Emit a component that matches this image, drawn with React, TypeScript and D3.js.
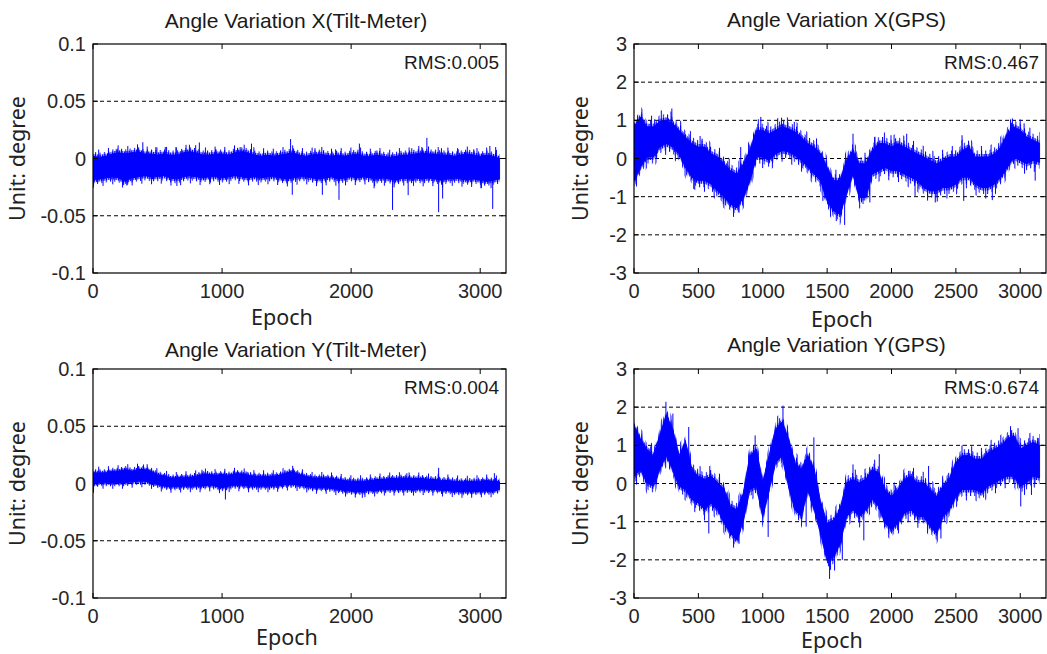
import React from 'react';
import * as d3 from 'd3';

// Epoch grid at which the band envelope of each record is sampled
const EPOCHS: number[] = d3.range(0, 3151, 50);

// Angle Variation X (Tilt-Meter): upper / lower edge of the dense band, degrees
const TILT_X_HI = [
  0.002, 0.001, 0.002, 0.004, 0.005, 0.004, 0.005, 0.006, 0.004, 0.004,
  0.003, 0.004, 0.003, 0.003, 0.005, 0.006, 0.005, 0.003, 0.003, 0.004,
  0.004, 0.003, 0.005, 0.006, 0.005, 0.003, 0.002, 0.003, 0.002, 0.003,
  0.004, 0.005, 0.003, 0.002, 0.003, 0.004, 0.003, 0.002, 0.003, 0.002,
  0.003, 0.004, 0.002, 0.002, 0.003, 0.002, 0.001, 0.002, 0.003, 0.003,
  0.004, 0.005, 0.004, 0.004, 0.003, 0.003, 0.002, 0.003, 0.004, 0.003,
  0.002, 0.003, 0.002, 0.0,
];
const TILT_X_LO = [
  -0.019, -0.018, -0.017, -0.016, -0.017, -0.02, -0.017, -0.016, -0.015, -0.016,
  -0.016, -0.015, -0.017, -0.018, -0.016, -0.015, -0.016, -0.017, -0.016, -0.016,
  -0.017, -0.016, -0.015, -0.016, -0.017, -0.016, -0.017, -0.016, -0.016, -0.017,
  -0.018, -0.017, -0.016, -0.016, -0.017, -0.018, -0.017, -0.016, -0.018, -0.017,
  -0.016, -0.017, -0.016, -0.017, -0.018, -0.017, -0.018, -0.019, -0.017, -0.018,
  -0.017, -0.018, -0.017, -0.018, -0.019, -0.018, -0.017, -0.018, -0.019, -0.018,
  -0.019, -0.02, -0.019, -0.018,
];
// isolated excursions [epoch, degrees]
const TILT_X_SPIKES: [number, number][] = [
  [180, 0.008], [262, -0.0236], [386, 0.0142], [487, 0.0099], [560, 0.01], [643, 0.0099],
  [650, -0.024], [747, 0.012], [824, 0.014], [910, -0.021], [950, 0.008], [1140, 0.01],
  [1228, 0.013], [1531, 0.017], [1544, -0.0317], [1720, 0.009], [1777, -0.0317],
  [1880, 0.008], [1906, -0.0361], [2064, 0.013], [2178, -0.026], [2200, 0.007],
  [2321, -0.0449], [2442, -0.032], [2470, 0.009], [2548, 0.01], [2587, 0.018],
  [2678, -0.0469], [2700, 0.009], [2709, -0.035], [2830, 0.008], [2950, 0.008],
  [3006, -0.026], [3075, 0.011], [3097, -0.044], [3120, 0.01],
];

// Angle Variation X (GPS)
const GPS_X_HI = [
  0.83, 1.09, 0.83, 0.83, 0.96, 1.0, 0.92, 0.74, 0.56, 0.39,
  0.3, 0.3, 0.12, 0.04, -0.14, -0.32, -0.41, -0.14, 0.21, 0.74,
  0.74, 0.65, 0.74, 0.83, 0.78, 0.7, 0.56, 0.39, 0.3, 0.12,
  -0.23, -0.58, -0.58, -0.05, 0.21, -0.14, -0.14, 0.21, 0.39, 0.39,
  0.3, 0.39, 0.3, 0.21, 0.12, 0.04, -0.05, -0.14, -0.05, 0.04,
  0.04, 0.21, 0.3, 0.04, 0.04, 0.04, 0.12, 0.3, 0.65, 0.83,
  0.74, 0.56, 0.48, 0.4,
];
const GPS_X_LO = [
  -0.58, -0.23, 0.04, 0.04, 0.3, 0.39, 0.3, 0.12, -0.23, -0.49,
  -0.58, -0.58, -0.67, -0.85, -1.02, -1.2, -1.29, -1.02, -0.58, 0.04,
  0.04, -0.05, 0.12, 0.21, 0.17, 0.08, -0.05, -0.23, -0.41, -0.58,
  -1.11, -1.37, -1.46, -0.93, -0.41, -1.02, -1.02, -0.41, -0.32, -0.23,
  -0.32, -0.32, -0.41, -0.49, -0.58, -0.76, -0.85, -0.85, -0.76, -0.76,
  -0.67, -0.49, -0.49, -0.67, -0.76, -0.76, -0.67, -0.49, -0.23, 0.04,
  -0.05, -0.14, -0.05, -0.1,
];
const GPS_X_SPIKES: [number, number][] = [
  [8, -0.58], [60, 1.09], [203, 1.0], [294, 1.31], [464, -0.8], [529, 0.52],
  [693, -1.2], [816, -1.42], [829, 0.3], [985, 1.09], [1146, 1.07], [1245, 0.96],
  [1467, -1.11], [1571, -1.64], [1636, -1.74], [1701, 0.65], [1767, -1.15],
  [1832, -1.15], [1871, 0.56], [1996, 0.61], [2118, 0.65], [2183, -0.98],
  [2340, -1.15], [2548, 0.61], [2561, -1.11], [2783, -1.09], [2939, 1.05],
  [3030, 0.92], [3116, -0.58],
];

// Angle Variation Y (Tilt-Meter)
const TILT_Y_HI = [
  0.0093, 0.0093, 0.0093, 0.0108, 0.0108, 0.0122, 0.0108, 0.0122, 0.0122, 0.0108,
  0.0079, 0.0064, 0.0049, 0.0049, 0.0055, 0.0055, 0.0064, 0.0079, 0.0079, 0.0073,
  0.0079, 0.0073, 0.0085, 0.0085, 0.0073, 0.0064, 0.0064, 0.0064, 0.0064, 0.0073,
  0.0093, 0.0102, 0.0079, 0.0064, 0.0049, 0.0049, 0.0049, 0.0044, 0.0035, 0.0026,
  0.002, 0.002, 0.002, 0.0026, 0.0035, 0.0035, 0.0044, 0.0044, 0.0049, 0.0044,
  0.0044, 0.0044, 0.0035, 0.0035, 0.0026, 0.0026, 0.002, 0.0015, 0.0015, 0.002,
  0.002, 0.0026, 0.002, 0.0015,
];
const TILT_Y_LO = [
  -0.0009, 0.0006, 0.0006, 0.0006, 0.0006, 0.0006, 0.0015, 0.002, 0.002, 0.0006,
  -0.0009, -0.0023, -0.0029, -0.0029, -0.0023, -0.0023, -0.0023, -0.0023, -0.0015, -0.0023,
  -0.0038, -0.0023, -0.0015, -0.0015, -0.0023, -0.0023, -0.0023, -0.0023, -0.0023, -0.0018,
  -0.0009, -0.0009, -0.0015, -0.0023, -0.0038, -0.0038, -0.0038, -0.0044, -0.0052, -0.0061,
  -0.0067, -0.0073, -0.0067, -0.0061, -0.0061, -0.0052, -0.0052, -0.0052, -0.0052, -0.0052,
  -0.0052, -0.0047, -0.0052, -0.0052, -0.0061, -0.0061, -0.0067, -0.0073, -0.0073, -0.0073,
  -0.0067, -0.0067, -0.0067, -0.0052,
];
const TILT_Y_SPIKES: [number, number][] = [
  [4, -0.008], [220, 0.0136], [391, 0.0166], [844, 0.012], [1026, -0.014],
  [1200, 0.01], [1531, 0.011], [2087, -0.0125], [2432, 0.009], [2678, 0.0137],
  [3110, 0.009],
];

// Angle Variation Y (GPS)
const GPS_Y_HI = [
  1.52, 1.17, 0.9, 0.73, 1.26, 1.79, 1.43, 0.73, 1.08, 0.37,
  0.19, 0.11, 0.19, 0.02, -0.16, -0.6, -0.69, -0.25, 0.73, 0.9,
  0.02, 0.73, 1.43, 1.61, 1.17, 0.55, 0.37, 0.73, 0.37, -0.51,
  -1.04, -0.96, -0.69, 0.02, 0.11, 0.02, 0.11, 0.37, 0.28, -0.16,
  -0.34, -0.16, 0.11, 0.19, 0.02, 0.02, -0.16, -0.34, -0.07, 0.11,
  0.55, 0.73, 0.73, 0.64, 0.64, 0.81, 0.9, 0.99, 1.17, 1.26,
  0.9, 0.99, 1.08, 1.0,
];
const GPS_Y_LO = [
  0.19, 0.37, 0.02, -0.07, 0.37, 0.73, 0.37, -0.07, -0.16, -0.42,
  -0.51, -0.69, -0.51, -0.69, -1.04, -1.31, -1.49, -0.96, -0.16, -0.07,
  -0.87, -0.16, 0.55, 0.73, -0.07, -0.69, -0.87, -0.16, -0.69, -1.31,
  -2.02, -1.93, -1.58, -0.87, -0.69, -0.87, -0.69, -0.42, -0.6, -1.04,
  -1.22, -1.04, -0.78, -0.69, -0.87, -0.87, -1.13, -1.31, -0.87, -0.69,
  -0.34, -0.16, -0.16, -0.16, -0.25, -0.07, 0.02, 0.11, 0.19, 0.19,
  -0.07, 0.02, 0.19, 0.15,
];
const GPS_Y_SPIKES: [number, number][] = [
  [248, 2.14], [302, 1.83], [425, 1.48], [581, -1.31], [816, -1.58], [941, 1.26],
  [1042, -1.4], [1157, 2.04], [1337, -1.13], [1397, 1.21], [1519, -2.5],
  [1558, -2.28], [1618, -2.0], [1701, 0.5], [1785, -1.49], [1905, 0.77],
  [2001, -1.31], [2144, 0.33], [2288, 0.46], [2384, -1.44], [2444, 0.28],
  [2874, 0.99], [2983, 1.45], [3004, -0.6], [3087, -0.3], [3140, 1.19],
];

// Axis ticks and labels
const TILT_TICKS = [-0.1, -0.05, 0, 0.05, 0.1];
const TILT_TICK_LABELS = ['-0.1', '-0.05', '0', '0.05', '0.1'];
const GPS_TICKS = [-3, -2, -1, 0, 1, 2, 3];
const GPS_TICK_LABELS = ['-3', '-2', '-1', '0', '1', '2', '3'];
const TILT_EPOCH_TICKS = [0, 1000, 2000, 3000];
const GPS_EPOCH_TICKS = [0, 500, 1000, 1500, 2000, 2500, 3000];

const TITLES = [
  'Angle Variation X(Tilt-Meter)',
  'Angle Variation X(GPS)',
  'Angle Variation Y(Tilt-Meter)',
  'Angle Variation Y(GPS)',
];
const RMS_LABELS = ['RMS:0.005', 'RMS:0.467', 'RMS:0.004', 'RMS:0.674'];

const BLUE = '#0000ff';
const TICK_FONT = "'Liberation Sans', Arial, sans-serif";
const LABEL_FONT = "'Noto Sans', 'Open Sans', sans-serif";

type PanelSpec = {
  title: string;
  rms: string;
  hi: number[];
  lo: number[];
  spikes: [number, number][];
  yTicks: number[];
  yLabels: string[];
  xTicks: number[];
  left: number;
  right: number;
  top: number;
  bottom: number;
  titleY: number;
  epochX: number;
  epochY: number;
  unitX: number;
  hair: number[]; // pixel lengths of the short vertical jitter strokes along the band edges
};

const PANELS: PanelSpec[] = [
  {
    title: TITLES[0], rms: RMS_LABELS[0], hi: TILT_X_HI, lo: TILT_X_LO, spikes: TILT_X_SPIKES,
    yTicks: TILT_TICKS, yLabels: TILT_TICK_LABELS, xTicks: TILT_EPOCH_TICKS,
    left: 93, right: 506, top: 44, bottom: 273, titleY: 28, epochX: 282, epochY: 325, unitX: 25,
    hair: [2.5, 4.5, 7.5],
  },
  {
    title: TITLES[1], rms: RMS_LABELS[1], hi: GPS_X_HI, lo: GPS_X_LO, spikes: GPS_X_SPIKES,
    yTicks: GPS_TICKS, yLabels: GPS_TICK_LABELS, xTicks: GPS_EPOCH_TICKS,
    left: 634, right: 1046, top: 44, bottom: 273, titleY: 27, epochX: 842, epochY: 327, unitX: 588,
    hair: [3, 6.5, 11],
  },
  {
    title: TITLES[2], rms: RMS_LABELS[2], hi: TILT_Y_HI, lo: TILT_Y_LO, spikes: TILT_Y_SPIKES,
    yTicks: TILT_TICKS, yLabels: TILT_TICK_LABELS, xTicks: TILT_EPOCH_TICKS,
    left: 93, right: 506, top: 369, bottom: 598, titleY: 357, epochX: 287, epochY: 645, unitX: 25,
    hair: [2, 3.5, 6],
  },
  {
    title: TITLES[3], rms: RMS_LABELS[3], hi: GPS_Y_HI, lo: GPS_Y_LO, spikes: GPS_Y_SPIKES,
    yTicks: GPS_TICKS, yLabels: GPS_TICK_LABELS, xTicks: GPS_EPOCH_TICKS,
    left: 634, right: 1046, top: 369, bottom: 598, titleY: 352, epochX: 832, epochY: 648, unitX: 588,
    hair: [3, 6.5, 11],
  },
];

// spacing of vertical strokes in each jitter layer (px)
const HAIR_PITCH = [1.7, 4.3, 9.7];

function Panel({ p, idx }: { p: PanelSpec; idx: number }) {
  const yMin = p.yTicks[0];
  const yMax = p.yTicks[p.yTicks.length - 1];
  const x = d3.scaleLinear().domain([0, 3200]).range([p.left, p.right]);
  const y = d3.scaleLinear().domain([yMin, yMax]).range([p.bottom, p.top]);

  type Row = { e: number; hi: number; lo: number };
  const rows: Row[] = EPOCHS.map((e, i) => ({ e, hi: p.hi[i], lo: p.lo[i] }));
  const band = d3.area<Row>().x((d) => x(d.e)).y0((d) => y(d.lo)).y1((d) => y(d.hi))(rows) as string;

  const fringe = (len: number, upper: boolean) =>
    d3
      .area<Row>()
      .x((d) => x(d.e))
      .y0((d) => (upper ? y(d.hi) + 1 : y(d.lo) - 1))
      .y1((d) => (upper ? y(d.hi) - len : y(d.lo) + len))(rows) as string;

  const midAt = (e: number) => {
    const i = Math.max(0, Math.min(EPOCHS.length - 1, Math.round(e / 50)));
    return (p.hi[i] + p.lo[i]) / 2;
  };

  const cx = (p.left + p.right) / 2;
  const cy = (p.top + p.bottom) / 2;
  const tickLen = 5;
  const clipId = `clip-${idx}`;

  return (
    <g>
      <defs>
        <clipPath id={clipId}>
          <rect x={p.left} y={p.top} width={p.right - p.left} height={p.bottom - p.top} />
        </clipPath>
        {HAIR_PITCH.map((w, k) =>
          [0, 1].map((j) => (
            <pattern key={`p${k}${j}`} id={`hair-${idx}-${k}-${j}`} patternUnits="userSpaceOnUse"
              width={w} height={20} patternTransform={`translate(${j * w * 0.45 + k * 0.6},0)`}>
              <rect x={0} y={0} width={1} height={20} fill={BLUE} />
            </pattern>
          ))
        )}
      </defs>
      {/* horizontal dashed grid */}
      {p.yTicks.slice(1, -1).map((t) => (
        <line key={'g' + t} x1={p.left} x2={p.right} y1={y(t)} y2={y(t)}
          stroke="#000" strokeWidth={1} strokeDasharray="4,3" />
      ))}
      {/* signal */}
      <g clipPath={`url(#${clipId})`}>
        {p.hair.map((len, k) =>
          [true, false].map((upper, j) => (
            <path key={`f${k}${j}`} d={fringe(len, upper)} fill={`url(#hair-${idx}-${k}-${j})`} />
          ))
        )}
        <path d={band} fill={BLUE} stroke={BLUE} strokeWidth={1} strokeLinejoin="round" />
        {p.spikes.map(([e, v], i) => (
          <line key={'s' + i} x1={x(e)} x2={x(e)} y1={y(midAt(e))} y2={y(v)}
            stroke={BLUE} strokeWidth={1} />
        ))}
      </g>
      {/* frame */}
      <rect x={p.left} y={p.top} width={p.right - p.left} height={p.bottom - p.top}
        fill="none" stroke="#000" strokeWidth={1.2} />
      {/* ticks */}
      {p.xTicks.map((t) => (
        <g key={'x' + t}>
          <line x1={x(t)} x2={x(t)} y1={p.bottom} y2={p.bottom - tickLen} stroke="#000" />
          <line x1={x(t)} x2={x(t)} y1={p.top} y2={p.top + tickLen} stroke="#000" />
          <text x={x(t)} y={p.bottom + 25} textAnchor="middle" fontFamily={TICK_FONT}
            fontSize={20} fill="#262626">{t}</text>
        </g>
      ))}
      {p.yTicks.map((t, i) => (
        <g key={'y' + t}>
          <line x1={p.left} x2={p.left + tickLen} y1={y(t)} y2={y(t)} stroke="#000" />
          <line x1={p.right} x2={p.right - tickLen} y1={y(t)} y2={y(t)} stroke="#000" />
          <text x={p.left - 7} y={y(t) + 7} textAnchor="end" fontFamily={TICK_FONT}
            fontSize={20} fill="#262626">{p.yLabels[i]}</text>
        </g>
      ))}
      {/* titles and labels */}
      <text x={cx - 3.5} y={p.titleY} textAnchor="middle" fontFamily={TICK_FONT}
        fontSize={21} fill="#1a1a1a">{p.title}</text>
      <text x={p.right - 7} y={p.top + 25} textAnchor="end" fontFamily={TICK_FONT}
        fontSize={19} fill="#1a1a1a">{p.rms}</text>
      <text x={p.epochX} y={p.epochY} textAnchor="middle" fontFamily={LABEL_FONT}
        fontSize={21.5} fill="#222">Epoch</text>
      <text transform={`translate(${p.unitX},${cy}) rotate(-90)`} textAnchor="middle"
        fontFamily={LABEL_FONT} fontSize={21.5} fill="#222">Unit: degree</text>
    </g>
  );
}

export default function App() {
  return (
    <svg width={1047} height={654} viewBox="0 0 1047 654"
      style={{ position: 'absolute', left: 0, top: 0, background: '#fff' }}>
      <rect width={1047} height={654} fill="#fff" />
      {PANELS.map((p, i) => (
        <Panel key={i} p={p} idx={i} />
      ))}
    </svg>
  );
}
